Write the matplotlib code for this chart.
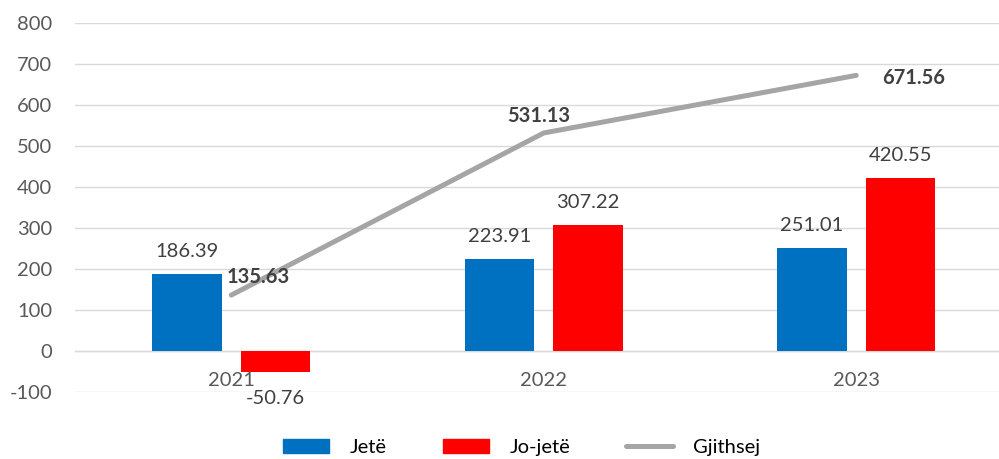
import numpy as np
import matplotlib.pyplot as plt
from matplotlib.lines import Line2D
from matplotlib.patches import Patch

plt.rcParams['font.family'] = ['Lato', 'DejaVu Sans']
plt.rcParams['axes.unicode_minus'] = False

years = ['2021', '2022', '2023']
jete = [186.39, 223.91, 251.01]
jo_jete = [-50.76, 307.22, 420.55]
gjithsej = [135.63, 531.13, 671.56]

# label offsets for the total line, in pixels (dx, dy of the baseline)
total_offsets = [(27, 12), (-5, 11), (57, -9)]

blue = '#0070C0'
red = '#FF0000'
grey = '#A5A5A5'
fs = 14.5

fig = plt.figure(figsize=(9.99, 4.59), dpi=100)
ax = fig.add_axes([0.0751, 0.1466, 0.9384, 0.8039])

x = np.arange(len(years))
w = 0.223
off = 0.1416

ax.bar(x - off, jete, w, color=blue, zorder=3)
ax.bar(x + off, jo_jete, w, color=red, zorder=3)
ax.plot(x, gjithsej, color=grey, lw=3.6, solid_capstyle='round', zorder=4)

# value labels on the bars
for xs, vals in ((x - off, jete), (x + off, jo_jete)):
    for xi, v in zip(xs, vals):
        if v >= 0:
            ax.annotate(f'{v:.2f}', (xi, v), xytext=(0, 17), textcoords='offset pixels',
                        ha='center', va='baseline', fontsize=fs, color='#404040', zorder=5)
        else:
            ax.annotate(f'{v:.2f}', (xi, v), xytext=(0, -18), textcoords='offset pixels',
                        ha='center', va='top', fontsize=fs, color='#404040', zorder=5)

for xi, v, (dx, dy) in zip(x, gjithsej, total_offsets):
    ax.annotate(f'{v:.2f}', (xi, v), xytext=(dx, dy), textcoords='offset pixels',
                ha='center', va='baseline', fontsize=fs, fontweight='bold',
                color='#404040', zorder=5)

ax.set_xlim(-0.5, 2.5)
ax.set_ylim(-100, 800)
ax.set_yticks(np.arange(-100, 801, 100))
ax.yaxis.grid(True, color='#D9D9D9', lw=1.0, zorder=0)
ax.set_axisbelow(True)

for s in ('top', 'right', 'left'):
    ax.spines[s].set_visible(False)
ax.spines['bottom'].set_position(('data', 0))
ax.spines['bottom'].set_color('#D9D9D9')
ax.spines['bottom'].set_linewidth(1.0)

ax.set_xticks(x)
ax.set_xticklabels(years)
ax.tick_params(axis='x', length=0, pad=15, labelsize=fs, labelcolor='#595959')
ax.tick_params(axis='y', length=0, pad=16.5, labelsize=fs, labelcolor='#595959')

handles = [Patch(color=blue), Patch(color=red),
           Line2D([0], [0], color=grey, lw=3.6, solid_capstyle='round')]
fig.legend(handles, ['Jetë', 'Jo-jetë', 'Gjithsej'], loc='center',
           bbox_to_anchor=(0.522, 0.026), ncol=3, frameon=False, fontsize=fs,
           handlelength=2.3, handletextpad=1.0, columnspacing=2.8,
           labelcolor='#000000')

fig.savefig('out.png', dpi=100)
